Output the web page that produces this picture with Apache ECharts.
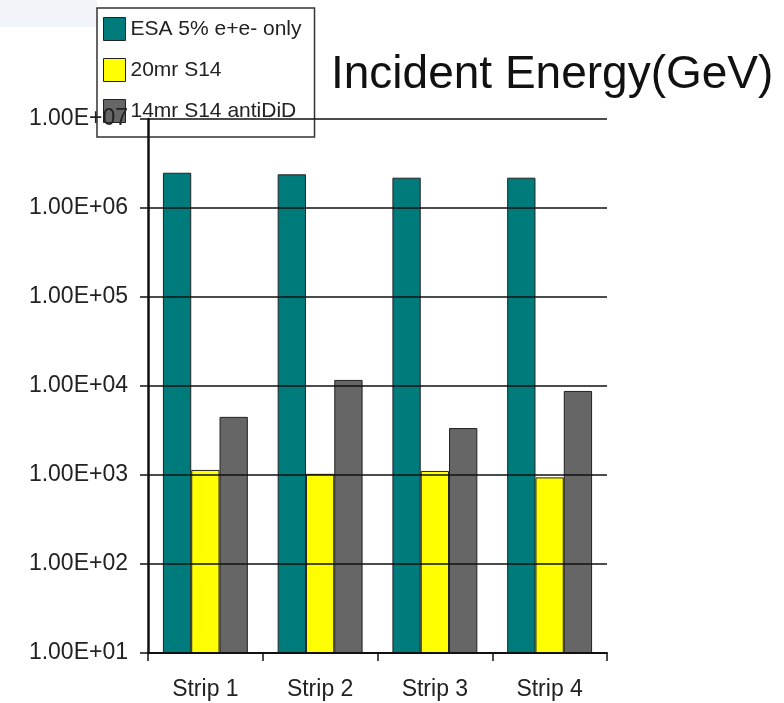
<!DOCTYPE html>
<html>
<head>
<meta charset="utf-8">
<script src="https://cdn.jsdelivr.net/npm/echarts@6/dist/echarts.min.js"></script>
<style>html,body{margin:0;padding:0;background:#fff;}#c{width:784px;height:703px;}</style>
</head>
<body>
<div id="c"></div>
<script>
var categories = ['Strip 1', 'Strip 2', 'Strip 3', 'Strip 4'];
var seriesNames = ['ESA 5% e+e- only', '20mr S14', '14mr S14 antiDiD'];
var esaValues = [2.49e6, 2.39e6, 2.19e6, 2.19e6];
var s20Values = [1140, 1030, 1110, 940];
var s14Values = [4500, 11700, 3370, 8800];
var yTickLabels = ['1.00E+01', '1.00E+02', '1.00E+03', '1.00E+04', '1.00E+05', '1.00E+06', '1.00E+07'];
var titleText = 'Incident Energy(GeV)';

var chart = echarts.init(document.getElementById('c'), null, {renderer: 'canvas'});
var font = 'Liberation Sans, Arial, sans-serif';
var colors = ['#007B7B', '#FFFF00', '#666666'];
var vals = [esaValues, s20Values, s14Values];

chart.setOption({
  animation: false,
  backgroundColor: '#ffffff',
  graphic: [{
    type: 'rect', left: 0, top: 0, z: -10,
    shape: {width: 97, height: 27},
    style: {fill: '#F1F5FA'}
  }],
  title: {
    text: titleText,
    left: 331, top: 52,
    padding: 0,
    textStyle: {fontFamily: font, fontSize: 46, fontWeight: 'normal', color: '#111'}
  },
  legend: {
    orient: 'vertical',
    left: 97, top: 8,
    z: 1,
    padding: [9, 13, 14, 6],
    itemGap: 17,
    itemWidth: 22, itemHeight: 23,
    borderColor: '#333', borderWidth: 1.5,
    itemStyle: {borderColor: '#222', borderWidth: 1},
    textStyle: {fontFamily: font, fontSize: 21, color: '#222', padding: [5, 0, 0, 0]},
    icon: 'rect',
    data: seriesNames
  },
  grid: {left: 148, right: 177, top: 119, bottom: 50, containLabel: false},
  xAxis: {
    type: 'category',
    data: categories,
    z: 5,
    axisLine: {lineStyle: {color: '#111', width: 2}},
    axisTick: {show: true, length: 8, lineStyle: {color: '#111', width: 1.5}},
    axisLabel: {fontFamily: font, fontSize: 23, color: '#222', margin: 25},
    splitLine: {show: false}
  },
  yAxis: {
    type: 'log',
    logBase: 10,
    min: 10, max: 1e7,
    z: 5,
    axisLine: {show: true, lineStyle: {color: '#111', width: 2.5}},
    axisTick: {show: true, length: 8, lineStyle: {color: '#111', width: 1.5}},
    minorTick: {show: false},
    axisLabel: {
      fontFamily: font, fontSize: 23, color: '#222', margin: 20,
      formatter: function (v) {
        var e = Math.round(Math.log10(v));
        return yTickLabels[e - 1] || '';
      }
    },
    splitLine: {show: true, lineStyle: {color: '#111', width: 1.5}}
  },
  series: seriesNames.map(function (n, i) {
    return {
      name: n,
      type: 'bar',
      data: vals[i],
      barGap: '0%',
      barCategoryGap: '26%',
      itemStyle: {color: colors[i], borderColor: '#222', borderWidth: 1}
    };
  })
});
</script>
</body>
</html>
